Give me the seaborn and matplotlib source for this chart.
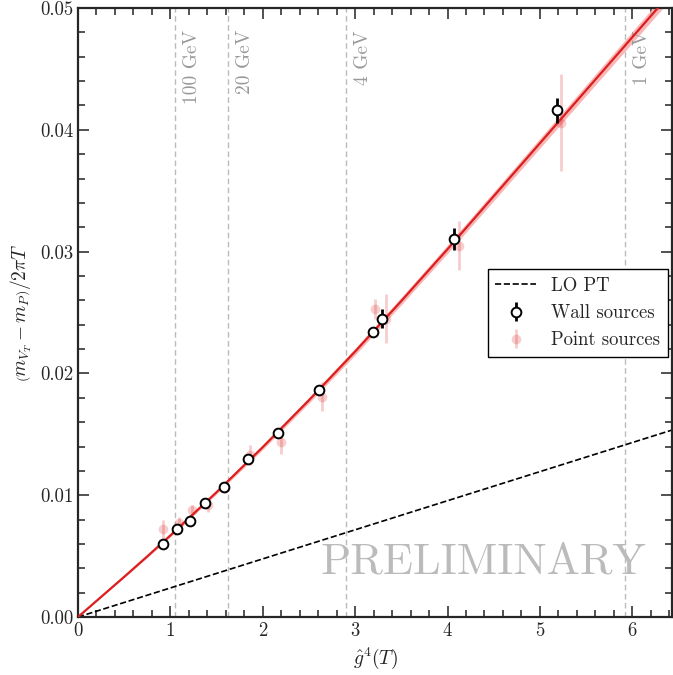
import numpy as np
import matplotlib
matplotlib.use("Agg")
import matplotlib.pyplot as plt
from matplotlib.ticker import MultipleLocator, FormatStrFormatter
from matplotlib.lines import Line2D
import seaborn as sns

# ======================
# Data
# ======================
wall_x = [0.92, 1.07, 1.21, 1.38, 1.58, 1.84, 2.17, 2.61, 3.19, 3.29, 4.07, 5.19]
wall_y = [0.0060, 0.0072, 0.0079, 0.0094, 0.0107, 0.0130, 0.0151, 0.0186, 0.0234, 0.0245, 0.0310, 0.0416]
wall_err = [0.0002, 0.0002, 0.0002, 0.0002, 0.0002, 0.0002, 0.0002, 0.0002, 0.0002, 0.0008, 0.0009, 0.0010]

point_x = [0.92, 1.09, 1.23, 1.41, 1.59, 1.86, 2.20, 2.64, 3.22, 3.33, 4.12, 5.23]
point_y = [0.0072, 0.0077, 0.0088, 0.0092, 0.0106, 0.0133, 0.0144, 0.0181, 0.0253, 0.0245, 0.0305, 0.0406]
point_err = [0.0008, 0.0005, 0.0004, 0.0006, 0.0004, 0.0008, 0.0010, 0.0012, 0.0008, 0.0020, 0.0020, 0.0040]

fit_x = [0.0, 0.25, 0.5, 0.75, 1.0, 1.5, 2.0, 2.5, 3.0, 3.5, 4.0, 5.0, 6.0, 6.43]
fit_y = [0.0, 0.00165, 0.0033, 0.00498, 0.0067, 0.01025, 0.01395, 0.0178, 0.0218, 0.02595, 0.0302, 0.0389, 0.0476, 0.05134]
fit_err = [0.0, 0.00004, 0.00007, 0.0001, 0.00012, 0.00016, 0.0002, 0.00024, 0.00028, 0.00031, 0.00034, 0.0004, 0.00047, 0.0005]

lo_x = [0.0, 6.43]
lo_y = [0.0, 0.01535]

scale_x = [1.045, 1.62, 2.90, 5.92]
scale_labels = ["100 GeV", "20 GeV", "4 GeV", "1 GeV"]

# ======================
# Style
# ======================
sns.set_style("ticks")
plt.rcParams["font.family"] = ["cmr10", "DejaVu Serif"]
plt.rcParams["mathtext.fontset"] = "cm"
plt.rcParams["axes.formatter.use_mathtext"] = True
plt.rcParams["axes.unicode_minus"] = False

red = "#dc1e1e"

fig = plt.figure(figsize=(6.73, 6.75), dpi=100)
ax = fig.add_axes([0.1159, 0.0859, 0.8826, 0.9022])

# scale lines
for xv, lab in zip(scale_x, scale_labels):
    ax.axvline(xv, color="#bbbbbb", ls=(0, (4, 2.5)), lw=1.0, zorder=1)
    ax.text(xv + 0.09, 0.0482, lab, rotation=90, color="#999999", fontsize=14,
            ha="left", va="top")

# LO PT
sns.lineplot(x=lo_x, y=lo_y, ax=ax, color="black", lw=1.2, linestyle="--", zorder=2)

# fit band + curve
fx = np.array(fit_x)
fy = np.array(fit_y)
fe = np.array(fit_err)
ax.fill_between(fx, fy - fe, fy + fe, color="#f8b0b0", alpha=0.9, lw=0, zorder=2)
sns.lineplot(x=fit_x, y=fit_y, ax=ax, color=red, lw=1.6, zorder=3)

# point sources
ax.errorbar(point_x, point_y, yerr=point_err, fmt="o", color=red, alpha=0.22,
            ms=7, mec="none", elinewidth=2, capsize=0, zorder=4)

# wall sources
ax.errorbar(wall_x, wall_y, yerr=wall_err, fmt="o", color="black", mfc="white",
            mec="black", mew=1.4, ms=7, elinewidth=2, capsize=0, zorder=5)

ax.text(4.39, 0.0045, "PRELIMINARY", fontsize=32, color="#bbbbbb", ha="center",
        va="center", zorder=1)

ax.set_xlim(0, 6.43)
ax.set_ylim(0, 0.05)
ax.xaxis.set_major_locator(MultipleLocator(1))
ax.xaxis.set_minor_locator(MultipleLocator(0.2))
ax.yaxis.set_major_locator(MultipleLocator(0.01))
ax.yaxis.set_minor_locator(MultipleLocator(0.002))
ax.yaxis.set_major_formatter(FormatStrFormatter("%.2f"))
ax.tick_params(which="both", direction="in", top=True, right=True, labelsize=13.5,
               width=1.2, color="#333333")
ax.tick_params(which="major", length=8)
ax.tick_params(which="minor", length=5)
for sp in ax.spines.values():
    sp.set_linewidth(1.6)

ax.set_xlabel(r"$\hat{g}^4(T)$", fontsize=14)
ax.set_ylabel(r"$\left(m_{V_T}-m_P\right)/2\pi T$", fontsize=14)

handles = [
    Line2D([], [], color="black", ls="--", lw=1.2),
    ax.errorbar([], [], yerr=[], fmt="o", color="black", mfc="white", mec="black",
                mew=1.4, ms=7, elinewidth=2),
    ax.errorbar([], [], yerr=[], fmt="o", color=red, alpha=0.22, ms=7, mec="none",
                elinewidth=2),
]
leg = ax.legend(handles, ["LO PT", "Wall sources", "Point sources"], loc="center right",
                bbox_to_anchor=(0.993, 0.499), borderaxespad=0, fontsize=13.5,
                fancybox=False, framealpha=1, edgecolor="black", handlelength=2.2)
leg.get_frame().set_linewidth(1.0)

fig.savefig("out.png", dpi=100)
